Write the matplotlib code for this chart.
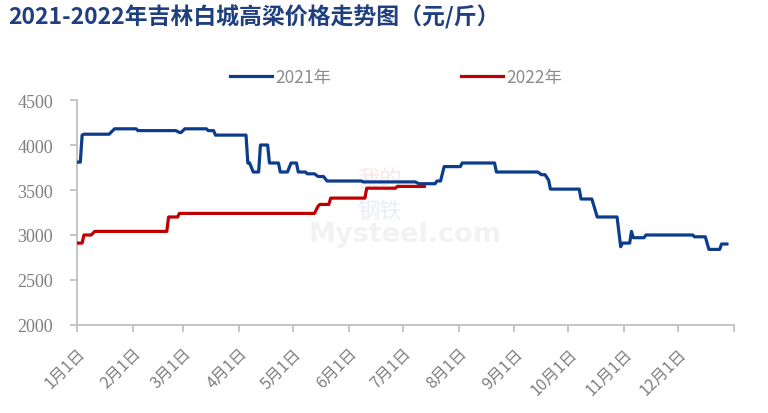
import matplotlib
matplotlib.use("Agg")
import matplotlib.pyplot as plt
import pandas as pd

plt.rcParams['font.family'] = ['Noto Sans CJK SC', 'DejaVu Sans']

# 2021 price points (month-day, yuan/jin *1000 scale as on chart)
dates_2021 = ["01-01", "01-03", "01-04", "01-05", "01-19", "01-22", "02-03", "02-04",
              "02-25", "02-27", "02-28", "03-02", "03-14", "03-15", "03-18", "03-19",
              "04-05", "04-06", "04-07", "04-09", "04-12", "04-13", "04-17", "04-18",
              "04-23", "04-24", "04-28", "04-30", "05-03", "05-04", "05-08", "05-09",
              "05-13", "05-15", "05-18", "05-20", "06-08", "06-09", "07-08", "07-10",
              "07-19", "07-20", "07-22", "07-24", "08-02", "08-03", "08-21", "08-22",
              "09-14", "09-16", "09-18", "09-20", "09-21", "10-07", "10-08", "10-14",
              "10-17", "10-28", "10-30", "10-31", "11-04", "11-05", "11-06", "11-12",
              "11-13", "12-09", "12-10", "12-16", "12-18", "12-24", "12-25", "12-28"]
values_2021 = [3810, 3810, 4110, 4120, 4120, 4180, 4180, 4160,
               4160, 4140, 4140, 4180, 4180, 4160, 4160, 4110,
               4110, 3800, 3800, 3700, 3700, 4000, 4000, 3800,
               3800, 3700, 3700, 3800, 3800, 3700, 3700, 3680,
               3680, 3650, 3650, 3600, 3600, 3590, 3590, 3570,
               3570, 3600, 3600, 3760, 3760, 3800, 3800, 3700,
               3700, 3670, 3670, 3610, 3510, 3510, 3400, 3400,
               3200, 3200, 2870, 2910, 2910, 3040, 2970, 2970,
               3000, 3000, 2980, 2980, 2840, 2840, 2900, 2900]

dates_2022 = ["01-01", "01-04", "01-05", "01-09", "01-11", "02-20", "02-21", "02-26",
              "02-27", "05-13", "05-15", "05-16", "05-21", "05-22", "06-10", "06-11",
              "06-27", "06-28", "07-13"]
values_2022 = [2910, 2910, 3000, 3000, 3040, 3040, 3200, 3200,
               3240, 3240, 3320, 3340, 3340, 3410, 3410, 3520,
               3520, 3540, 3540]

month_labels = ["1月1日", "2月1日", "3月1日", "4月1日", "5月1日", "6月1日",
                "7月1日", "8月1日", "9月1日", "10月1日", "11月1日", "12月1日"]
y_ticks = [2000, 2500, 3000, 3500, 4000, 4500]


def to_dates(md):
    # both years drawn on a common 2021 calendar
    return pd.to_datetime(["2021-" + d for d in md])


fig = plt.figure(figsize=(7.68, 4.14), dpi=100)
ax = fig.add_axes([0.0999, 0.2126, 0.856, 0.5434])

ax.plot(to_dates(dates_2021), values_2021, color="#0b3d8c", lw=2.3, label="2021年",
        solid_joinstyle="round", zorder=3)
ax.plot(to_dates(dates_2022), values_2022, color="#c00000", lw=2.3, label="2022年",
        solid_joinstyle="round", zorder=3)

# x axis: month starts, last tick unlabeled
month_starts = pd.date_range("2021-01-01", "2022-01-01", freq="MS")
ax.set_xlim(month_starts[0], month_starts[-1])
ax.set_xticks(month_starts)
ax.set_xticklabels(month_labels + [""], rotation=45, ha="right", rotation_mode="anchor",
                   color="#7f7f7f", fontsize=11.5)

ax.set_ylim(2000, 4500)
ax.set_yticks(y_ticks)
ax.set_yticklabels([str(v) for v in y_ticks], family="Liberation Serif",
                   color="#7f7f7f", fontsize=13)

for s in ["top", "right"]:
    ax.spines[s].set_visible(False)
for s in ["left", "bottom"]:
    ax.spines[s].set_color("#c0c0c0")
    ax.spines[s].set_linewidth(1.3)
ax.tick_params(axis="both", color="#c0c0c0", length=5, width=1.3)
ax.tick_params(axis="x", pad=9)
ax.tick_params(axis="y", pad=12)

# faint watermark
ax.text(0.5, 0.404, "Mysteel.com", transform=ax.transAxes, ha="center", va="center",
        fontsize=19.5, fontweight="bold", color="#f2f2f2", family="DejaVu Sans", zorder=1)
ax.text(0.46, 0.65, "我的", transform=ax.transAxes, ha="center", va="center",
        fontsize=16, color="#f6e8e8", zorder=1)
ax.text(0.46, 0.51, "钢铁", transform=ax.transAxes, ha="center", va="center",
        fontsize=16, color="#e9edf5", zorder=1)

fig.text(0.011, 0.957, "2021-2022年吉林白城高梁价格走势图（元/斤）", fontsize=16.5,
         fontweight="bold", color="#1f3f7f", ha="left", va="center")

fig.legend(loc="center", bbox_to_anchor=(0.516, 0.812), ncol=2, frameon=False,
           fontsize=12.5, labelcolor="#8c8c8c", handlelength=2.4, columnspacing=7.5,
           handletextpad=0.2)

fig.savefig("out.png", dpi=100)
